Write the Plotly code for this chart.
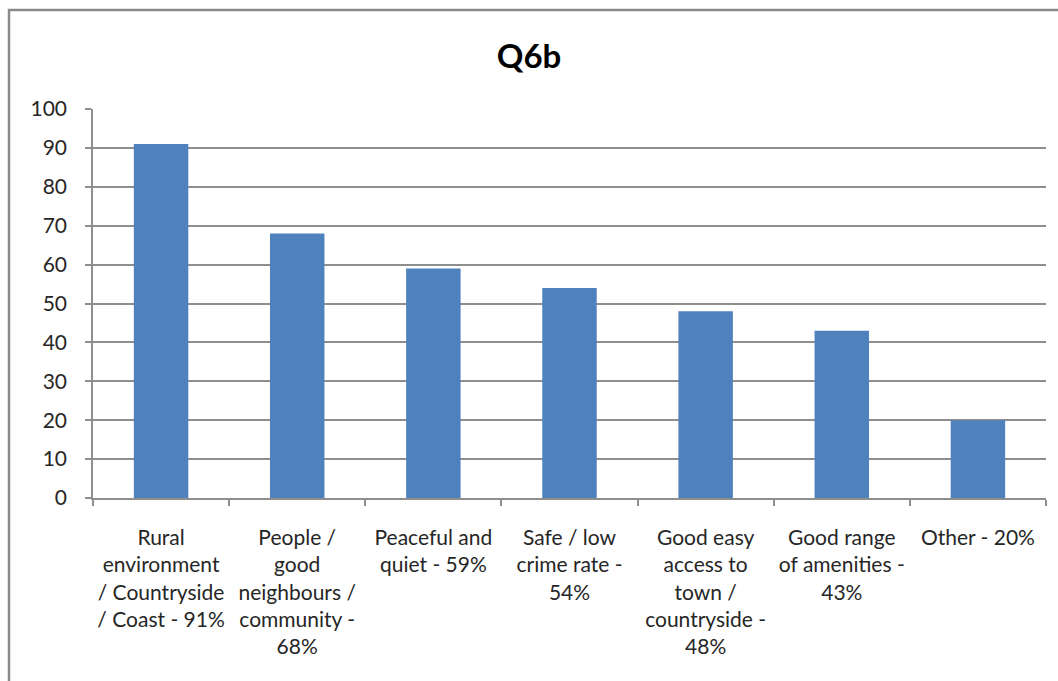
import plotly.graph_objects as go

# Survey responses for Q6b (percentage of respondents)
categories = [
    "Rural<br>environment<br>/ Countryside<br>/ Coast - 91%",
    "People /<br>good<br>neighbours /<br>community -<br>68%",
    "Peaceful and<br>quiet - 59%",
    "Safe / low<br>crime rate -<br>54%",
    "Good easy<br>access to<br>town /<br>countryside -<br>48%",
    "Good range<br>of amenities -<br>43%",
    "Other - 20%",
]
values = [91, 68, 59, 54, 48, 43, 20]
y_ticks = list(range(0, 101, 10))

BAR_COLOR = "#4F81BD"
GRID_COLOR = "#8E8E8E"
TEXT_COLOR = "#262626"
FONT = "Lato, 'Open Sans', sans-serif"

fig = go.Figure(
    go.Bar(
        x=categories,
        y=values,
        marker=dict(color=BAR_COLOR, line=dict(width=0)),
        width=0.4,
        hoverinfo="x+y",
    )
)

fig.update_layout(
    width=1058,
    height=681,
    margin=dict(l=93, r=12, t=109, b=183),
    paper_bgcolor="white",
    plot_bgcolor="white",
    showlegend=False,
    font=dict(family=FONT, size=21, color=TEXT_COLOR),
    title=dict(
        text="<b>Q6b</b>",
        x=0.5,
        xanchor="center",
        y=1 - 56 / 681,
        yanchor="middle",
        font=dict(family=FONT, size=33, color="#000000"),
    ),
    xaxis=dict(
        type="category",
        automargin=False,
        tickangle=0,
        showline=True,
        linecolor=GRID_COLOR,
        linewidth=1.5,
        ticks="outside",
        tickson="boundaries",
        ticklen=6,
        tickcolor=GRID_COLOR,
        tickwidth=1.5,
        showgrid=False,
        ticklabelstandoff=20,
        tickfont=dict(family=FONT, size=21, color=TEXT_COLOR),
    ),
    yaxis=dict(
        range=[0, 100],
        tickvals=y_ticks,
        automargin=False,
        showline=True,
        linecolor=GRID_COLOR,
        linewidth=1.5,
        ticks="outside",
        ticklen=6,
        tickcolor=GRID_COLOR,
        tickwidth=1.5,
        showgrid=True,
        gridcolor=GRID_COLOR,
        gridwidth=1.5,
        zeroline=False,
        ticklabelstandoff=14,
        tickfont=dict(family=FONT, size=21, color=TEXT_COLOR),
    ),
    shapes=[
        # chart frame (right and bottom edges fall outside the page)
        dict(
            type="rect",
            xref="paper",
            yref="paper",
            x0=(9 - 93) / 953,
            x1=1.2,
            y0=-1.0,
            y1=(498 - 10) / 389,
            line=dict(color="#8A8A8A", width=2.5),
            fillcolor="rgba(0,0,0,0)",
            layer="below",
        )
    ],
)

fig.write_html("out.html")
